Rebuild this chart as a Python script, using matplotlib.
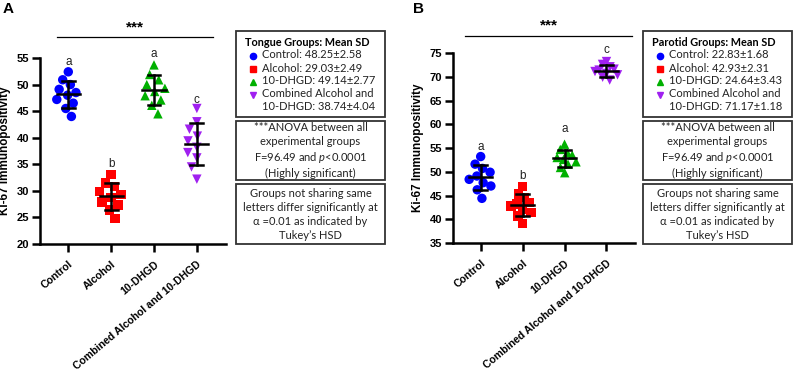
import numpy as np
import matplotlib.pyplot as plt
from matplotlib.patches import Rectangle
from matplotlib.lines import Line2D

plt.rcParams['font.family'] = ['Liberation Sans', 'DejaVu Sans']
plt.rcParams['mathtext.fontset'] = 'custom'
plt.rcParams['mathtext.it'] = 'Lato:italic'

groups = ["Control", "Alcohol", "10-DHGD", "Combined Alcohol and 10-DHGD"]
colors = ["#0000ff", "#ff0000", "#00b000", "#a020f0"]
markers = ["o", "s", "^", "v"]

# Tongue (panel A) Ki-67 values
tongue = [
    [52.4, 50.9, 50.0, 49.1, 48.5, 48.0, 47.2, 46.5, 45.5, 44.0],
    [33.1, 31.5, 30.8, 29.9, 29.3, 28.7, 27.9, 27.3, 26.4, 24.8],
    [53.7, 51.9, 50.9, 50.0, 49.3, 48.7, 47.9, 47.1, 46.1, 44.5],
    [45.5, 43.0, 41.6, 40.3, 39.4, 38.2, 37.2, 36.2, 34.5, 32.2],
]
tongue_letters = ["a", "b", "a", "c"]
tongue_legend = ["Control: 48.25\u00b12.58", "Alcohol: 29.03\u00b12.49",
                 "10-DHGD: 49.14\u00b12.77", "Combined Alcohol and\n10-DHGD: 38.74\u00b14.04"]

# Parotid (panel B) Ki-67 values
parotid = [
    [53.2, 51.6, 50.7, 49.9, 49.1, 48.4, 47.7, 47.0, 46.2, 44.4],
    [46.9, 45.3, 44.6, 43.5, 43.2, 42.8, 42.0, 41.4, 40.7, 39.1],
    [55.8, 54.7, 54.0, 53.5, 53.0, 52.6, 52.1, 51.6, 50.9, 49.8],
    [73.2, 72.6, 72.1, 71.6, 71.4, 71.1, 70.7, 70.4, 69.9, 69.3],
]
parotid_letters = ["a", "b", "a", "c"]
parotid_legend = ["Control: 22.83\u00b11.68", "Alcohol: 42.93\u00b12.31",
                  "10-DHGD: 24.64\u00b13.43", "Combined Alcohol and\n10-DHGD: 71.17\u00b11.18"]

anova_text = "***ANOVA between all\nexperimental groups\nF=96.49 and $p$<0.0001\n(Highly significant)"
tukey_text = "Groups not sharing same\nletters differ significantly at\n\u03b1 =0.01 as indicated by\nTukey\u2019s HSD"

W, H = 794, 379
fig = plt.figure(figsize=(W / 100, H / 100), dpi=100)
BOXFONT = ['Lato', 'DejaVu Sans']


def px_axes(x0, y0, x1, y1):
    return fig.add_axes([x0 / W, 1 - y1 / H, (x1 - x0) / W, (y1 - y0) / H])


def swarm(vals, ppx, ppy, diam, limit):
    # simple beeswarm in pixels, squeezed to +-limit px like a column scatter
    order = np.argsort(vals)[::-1]
    placed = []
    offs = np.zeros(len(vals))
    for i in order:
        y = vals[i] * ppy
        cands = [0.0]
        for (px, py) in placed:
            dy = abs(py - y)
            if dy < diam:
                dx = np.sqrt(diam ** 2 - dy ** 2)
                cands += [px - dx, px + dx]
        cands = sorted(cands, key=lambda c: (abs(c), c))
        for c in cands:
            if all((c - px) ** 2 + (y - py) ** 2 >= diam ** 2 - 1e-6 for px, py in placed):
                break
        placed.append((c, y))
        offs[i] = c
    mx = np.abs(offs).max()
    if mx > limit:
        offs = offs * limit / mx
    return offs / ppx


def panel(ax, data, letters, ylim, yticks, letter_y, sig_x, sig_y, star_y):
    ax.set_xlim(-0.66, 3.68)
    ax.set_ylim(*ylim)
    bb = ax.get_window_extent()
    ppx = bb.width / (3.68 + 0.66)
    ppy = bb.height / (ylim[1] - ylim[0])
    for k, vals in enumerate(data):
        vals = np.array(vals)
        off = swarm(vals, ppx, ppy, 10.5, 11.5)
        ax.scatter(k + off, vals, s=46, marker=markers[k], color=colors[k],
                   edgecolors='none', zorder=2, clip_on=False)
        m, sd = vals.mean(), vals.std(ddof=1)
        ax.plot([k - 0.27, k + 0.27], [m, m], color='black', lw=1.8, zorder=3)
        ax.plot([k, k], [m - sd, m + sd], color='black', lw=1.8, zorder=3)
        for e in (m - sd, m + sd):
            ax.plot([k - 0.15, k + 0.15], [e, e], color='black', lw=1.8, zorder=3)
        ax.text(k, letter_y[k], letters[k], ha='center', va='center', fontsize=8.5,
                color='#222222', clip_on=False)
    ax.plot(sig_x, [sig_y, sig_y], color='black', lw=0.9, clip_on=False)
    ax.text(np.mean(sig_x), star_y, "***", ha='center', va='center', fontsize=11,
            fontweight='bold', clip_on=False)
    ax.set_yticks(yticks)
    ax.set_xticks(range(4))
    ax.set_xticklabels(groups, rotation=40, ha='right', rotation_mode='anchor',
                       fontsize=7.6, fontweight='bold')
    for t in ax.get_yticklabels():
        t.set_fontweight('bold')
        t.set_fontsize(8)
    ax.tick_params(width=1.8, length=6, pad=2)
    ax.tick_params(axis='x', pad=5)
    for s in ['top', 'right']:
        ax.spines[s].set_visible(False)
    for s in ['left', 'bottom']:
        ax.spines[s].set_linewidth(1.8)
    ax.set_ylabel("Ki-67 Immunopositivity", fontsize=8.4, fontweight='bold', labelpad=4)


def boxes(x0, x1, title, legend):
    def rect(y0, y1):
        fig.patches.append(Rectangle((x0 / W, 1 - y1 / H), (x1 - x0) / W, (y1 - y0) / H,
                                     transform=fig.transFigure, fill=False,
                                     edgecolor='#333333', lw=1.3))
    rect(31, 117)
    rect(121, 180)
    rect(184, 244)
    fig.text((x0 + 9) / W, 1 - 43 / H, title, fontsize=7.8, fontweight='bold', va='center',
             family=BOXFONT)
    rows = [55, 68, 81, 100]
    for k, lab in enumerate(legend):
        y = rows[k]
        my = y - 6 if '\n' in lab else y
        fig.add_artist(Line2D([(x0 + 17) / W], [1 - (my + 1) / H], marker=markers[k],
                              color=colors[k], ms=4.5, ls='none', transform=fig.transFigure))
        fig.text((x0 + 26) / W, 1 - y / H, lab, fontsize=8, va='center',
                 linespacing=1.3, color='#222222', family=BOXFONT)
    xc = (x0 + x1) / 2 / W
    fig.text(xc, 1 - 150.5 / H, anova_text, ha='center', va='center', fontsize=8,
             linespacing=1.3, color='#222222', family=BOXFONT)
    fig.text(xc, 1 - 214.5 / H, tukey_text, ha='center', va='center', fontsize=8,
             linespacing=1.3, color='#222222', family=BOXFONT)


axA = px_axes(40, 58, 226, 244)
panel(axA, tongue, tongue_letters, (20, 55), range(20, 56, 5),
      [54.3, 35.0, 55.7, 47.1], [-0.26, 3.37], 58.9, 60.8)
axB = px_axes(453, 53, 635, 243)
panel(axB, parotid, parotid_letters, (35, 75), range(35, 76, 5),
      [55.2, 49.1, 59.0, 75.6], [-0.38, 3.62], 78.6, 80.9)

boxes(236, 385, "Tongue Groups: Mean SD", tongue_legend)
boxes(643, 792, "Parotid Groups: Mean SD", parotid_legend)

fig.text(3 / W, 1 - 9 / H, "A", fontsize=11, fontweight='bold', va='center')
fig.text(413 / W, 1 - 9 / H, "B", fontsize=11, fontweight='bold', va='center')

fig.savefig("out.png", dpi=100)
